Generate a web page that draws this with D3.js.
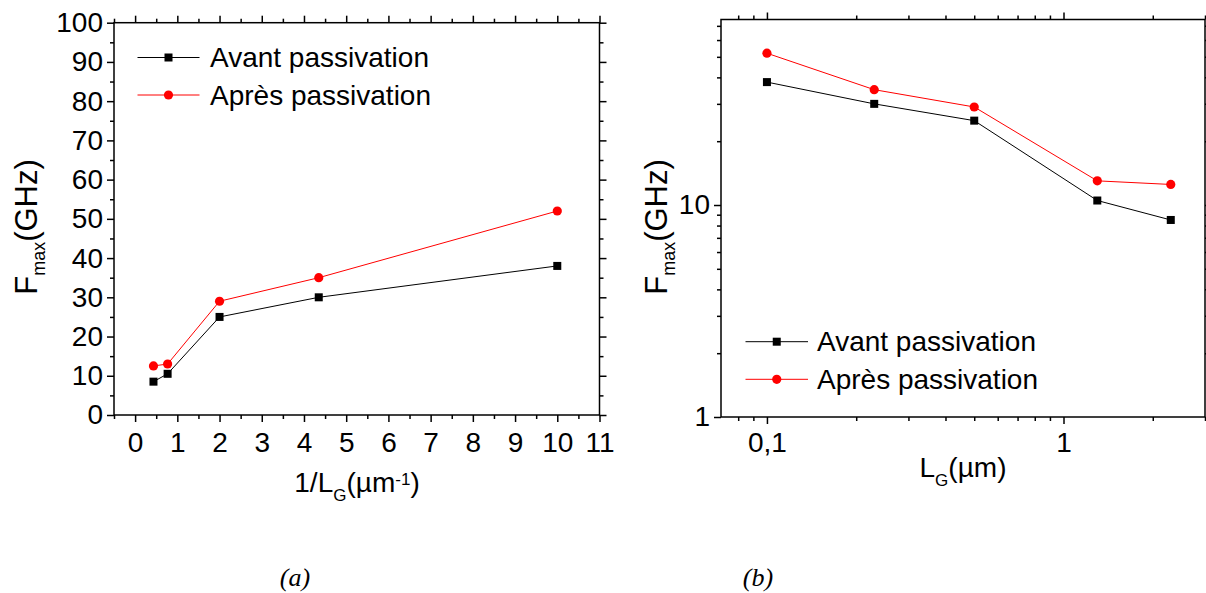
<!DOCTYPE html>
<html>
<head>
<meta charset="utf-8">
<script src="https://cdn.jsdelivr.net/npm/d3@7"></script>
<style>
  body { margin: 0; background: #fff; }
  svg { display: block; }
  text { font-family: "Liberation Sans", Arial, sans-serif; fill: #000; }
</style>
</head>
<body>
<svg id="fig" width="1206" height="593"></svg>
<script>
// Gate length (µm) and the corresponding 1/LG values (µm^-1)
const gateLengthUm = [0.1, 0.23, 0.5, 1.3, 2.3];
const inverseGateLength = [10, 4.35, 2, 0.77, 0.435];

// Fmax (GHz) before and after passivation
const fmaxBefore = [38, 30, 25, 10.5, 8.5];
const fmaxAfter = [52, 35, 29, 13, 12.5];

const seriesNames = ["Avant passivation", "Après passivation"];
const seriesColors = ["#000000", "#ff0000"];
const seriesMarkers = ["square", "circle"];

// Panel (a) ticks
const linXMajor = [0, 1, 2, 3, 4, 5, 6, 7, 8, 9, 10, 11];
const linXMinor = [-0.5, 0.5, 1.5, 2.5, 3.5, 4.5, 5.5, 6.5, 7.5, 8.5, 9.5, 10.5];
const linYMajor = [0, 10, 20, 30, 40, 50, 60, 70, 80, 90, 100];
const linYMinor = [5, 15, 25, 35, 45, 55, 65, 75, 85, 95];

// Panel (b) ticks
const logXMajor = [0.1, 1];
const logXLabels = ["0,1", "1"];
const logXMinor = [0.08, 0.09, 0.2, 0.3, 0.4, 0.5, 0.6, 0.7, 0.8, 0.9, 2, 3];
const logYMajor = [1, 10];
const logYLabels = ["1", "10"];
const logYMinor = [2, 3, 4, 5, 6, 7, 8, 9, 20, 30, 40, 50, 60, 70];

const svg = d3.select("#fig");
const MAJOR = 7, MINOR = 4, FONT = 28;

function drawPanel(cfg) {
  const { x, y, xVals, xMajor, xMinor, xFmt, yMajor, yMinor, yFmt, xPad } = cfg;
  const [x0, x1] = x.range();
  const [y0, y1] = y.range(); // y0 = bottom, y1 = top
  const g = svg.append("g");

  function axis(gen, tx, ty, vals, size, fmt, pad) {
    const a = g.append("g").attr("transform", `translate(${tx},${ty})`)
      .call(gen.tickValues(vals).tickSize(size).tickSizeOuter(0)
        .tickPadding(pad).tickFormat(fmt));
    a.select(".domain").remove();
    a.selectAll(".tick line").attr("stroke", "#000").attr("stroke-width", 1.5);
    a.selectAll(".tick text").style("font-size", FONT + "px").attr("fill", "#000");
    return a;
  }
  const none = () => "";

  // bottom
  axis(d3.axisBottom(x), 0, y0, xMajor, MAJOR, xFmt, xPad);
  axis(d3.axisBottom(x), 0, y0, xMinor, MINOR, none, 0);
  // top
  axis(d3.axisTop(x), 0, y1, xMajor, MAJOR, none, 0);
  axis(d3.axisTop(x), 0, y1, xMinor, MINOR, none, 0);
  // left
  axis(d3.axisLeft(y), x0, 0, yMajor, MAJOR, yFmt, 4);
  axis(d3.axisLeft(y), x0, 0, yMinor, MINOR, none, 0);
  // right
  axis(d3.axisRight(y), x1, 0, yMajor, MAJOR, none, 0);
  axis(d3.axisRight(y), x1, 0, yMinor, MINOR, none, 0);

  // frame
  g.append("rect")
    .attr("x", x0).attr("y", y1)
    .attr("width", x1 - x0).attr("height", y0 - y1)
    .attr("fill", "none").attr("stroke", "#000").attr("stroke-width", 1.5);

  // series
  [fmaxBefore, fmaxAfter].forEach((vals, i) => {
    const pts = xVals.map((xv, k) => [xv, vals[k]]).sort((a, b) => a[0] - b[0]);
    g.append("path")
      .attr("d", d3.line().x(d => x(d[0])).y(d => y(d[1]))(pts))
      .attr("fill", "none").attr("stroke", seriesColors[i]).attr("stroke-width", 1);
    pts.forEach(p => marker(g, seriesMarkers[i], x(p[0]), y(p[1]), seriesColors[i]));
  });

  return g;
}

function marker(g, type, cx, cy, color) {
  if (type === "square") {
    g.append("rect").attr("x", cx - 4).attr("y", cy - 4)
      .attr("width", 8).attr("height", 8).attr("fill", color);
  } else {
    g.append("circle").attr("cx", cx).attr("cy", cy).attr("r", 4.6).attr("fill", color);
  }
}

function legend(g, lx0, lx1, tx, rows) {
  rows.forEach((ly, i) => {
    g.append("line").attr("x1", lx0).attr("x2", lx1).attr("y1", ly).attr("y2", ly)
      .attr("stroke", seriesColors[i]).attr("stroke-width", 1);
    marker(g, seriesMarkers[i], (lx0 + lx1) / 2, ly, seriesColors[i]);
    g.append("text").attr("x", tx).attr("y", ly + 9.5)
      .style("font-size", FONT + "px").text(seriesNames[i]);
  });
}

function yTitle(g, bx, cy) {
  const t = g.append("text")
    .attr("transform", `translate(${bx},${cy}) rotate(-90)`)
    .attr("text-anchor", "middle").style("font-size", "31px");
  t.append("tspan").text("F");
  t.append("tspan").attr("dy", 8).style("font-size", "18px").text("max");
  t.append("tspan").attr("dy", -8).text("(GHz)");
}

// ---- Panel (a): Fmax vs 1/LG, linear axes
const xa = d3.scaleLinear().domain([-0.5, 11]).range([114, 599.5]);
const ya = d3.scaleLinear().domain([0, 100]).range([415, 22.7]);
const ga = drawPanel({
  x: xa, y: ya, xVals: inverseGateLength,
  xMajor: linXMajor, xMinor: linXMinor, xFmt: d => String(d),
  yMajor: linYMajor, yMinor: linYMinor, yFmt: d => String(d), xPad: 10
});
legend(ga, 137.5, 199.5, 210, [57.5, 95]);
yTitle(ga, 37, 227);
{
  const t = ga.append("text").attr("x", 357).attr("y", 491.7)
    .attr("text-anchor", "middle").style("font-size", FONT + "px");
  t.append("tspan").text("1/L");
  t.append("tspan").attr("dy", 9).style("font-size", "17px").text("G");
  t.append("tspan").attr("dy", -9).text("(µm");
  t.append("tspan").attr("dy", -7).style("font-size", "17px").text("-1");
  t.append("tspan").attr("dy", 7).text(")");
}

// ---- Panel (b): Fmax vs LG, log-log axes
const xb = d3.scaleLog().domain([0.07, 3]).range([721, 1205]);
const yb = d3.scaleLog().domain([1, 75]).range([417, 19.5]);
const gb = drawPanel({
  x: xb, y: yb, xVals: gateLengthUm,
  xMajor: logXMajor, xMinor: logXMinor, xFmt: d => logXLabels[logXMajor.indexOf(d)],
  yMajor: logYMajor, yMinor: logYMinor, yFmt: d => logYLabels[logYMajor.indexOf(d)], xPad: 8
});
legend(gb, 745.5, 808, 817, [341.7, 379.3]);
yTitle(gb, 667, 227);
{
  const t = gb.append("text").attr("x", 963).attr("y", 476.7)
    .attr("text-anchor", "middle").style("font-size", FONT + "px");
  t.append("tspan").text("L");
  t.append("tspan").attr("dy", 9).style("font-size", "17px").text("G");
  t.append("tspan").attr("dy", -9).text("(µm)");
}

// ---- Captions
[["(a)", 295], ["(b)", 758]].forEach(([s, cx]) => {
  svg.append("text").attr("x", cx).attr("y", 586).attr("text-anchor", "middle")
    .style("font-family", "'Liberation Serif', 'Times New Roman', serif")
    .style("font-style", "italic").style("font-size", "26px").text(s);
});
</script>
</body>
</html>
